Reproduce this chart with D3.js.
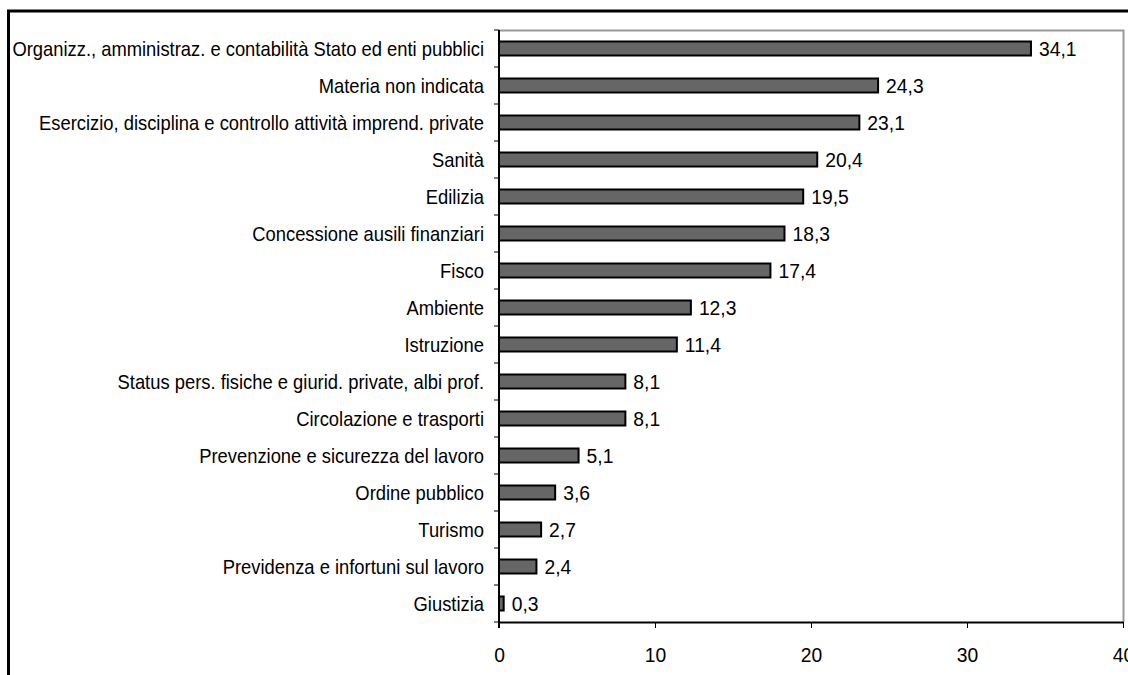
<!DOCTYPE html>
<html>
<head>
<meta charset="utf-8">
<script src="https://cdn.jsdelivr.net/npm/d3@7"></script>
<style>
  html, body { margin: 0; padding: 0; background: #fff; }
  svg { display: block; font-family: Arial, "Liberation Sans", sans-serif; }
</style>
</head>
<body>
<svg id="chart" width="1128" height="675"></svg>
<script>
// Subject areas, top to bottom
const categories = [
  "Organizz., amministraz. e contabilità Stato ed enti pubblici",
  "Materia non indicata",
  "Esercizio, disciplina e controllo attività imprend. private",
  "Sanità",
  "Edilizia",
  "Concessione ausili finanziari ",
  "Fisco ",
  "Ambiente",
  "Istruzione",
  "Status pers. fisiche e giurid. private, albi prof.",
  "Circolazione e trasporti",
  "Prevenzione e sicurezza del lavoro",
  "Ordine pubblico",
  "Turismo",
  "Previdenza e infortuni sul lavoro",
  "Giustizia"
];
const values = [34.1, 24.3, 23.1, 20.4, 19.5, 18.3, 17.4, 12.3, 11.4, 8.1, 8.1, 5.1, 3.6, 2.7, 2.4, 0.3];
const xTicks = [0, 10, 20, 30, 40];

// text is set slightly condensed horizontally
const FONT = 21;
const LABEL_SX = 0.875;
const NUM_SX = 0.92;

const svg = d3.select("#chart");
const plot = { left: 499, right: 1123, top: 30, bottom: 622 };

// outer frame (extends past the right and bottom edges)
svg.append("path")
  .attr("d", "M8.5,1000 V11 H1200")
  .attr("fill", "none")
  .attr("stroke", "#000")
  .attr("stroke-width", 3);

const x = d3.scaleLinear().domain([0, 40]).range([plot.left, plot.right]);
const band = d3.scaleBand().domain(categories).range([plot.top, plot.bottom]);
const cy = i => band(categories[i]) + band.bandwidth() / 2;

// plot-area border (top & right, gray)
svg.append("path")
  .attr("d", `M${plot.left},${plot.top + 0.5} H${plot.right + 0.5} V${plot.bottom}`)
  .attr("fill", "none")
  .attr("stroke", "#999")
  .attr("stroke-width", 2);

// bars
svg.append("g").selectAll("rect")
  .data(values)
  .join("rect")
  .attr("x", x(0))
  .attr("y", (d, i) => cy(i) - 7)
  .attr("width", d => x(d) - x(0))
  .attr("height", 14)
  .attr("fill", "#666666")
  .attr("stroke", "#000")
  .attr("stroke-width", 2);

// value labels
svg.append("g").selectAll("text")
  .data(values)
  .join("text")
  .attr("transform", (d, i) => `translate(${x(d) + 8},${cy(i)}) scale(${NUM_SX},1)`)
  .attr("dy", "0.36em")
  .attr("font-size", FONT)
  .attr("fill", "#000")
  .text(d => d3.format(".1f")(d).replace(".", ","));

// category axis: labels at band centres, ticks at band boundaries
const yAxis = svg.append("g");
yAxis.append("line")
  .attr("x1", plot.left).attr("x2", plot.left)
  .attr("y1", plot.top).attr("y2", plot.bottom + 6)
  .attr("stroke", "#000").attr("stroke-width", 2);
yAxis.selectAll("line.tick")
  .data(d3.range(categories.length + 1))
  .join("line")
  .attr("class", "tick")
  .attr("x1", plot.left - 5).attr("x2", plot.left)
  .attr("y1", i => plot.top + i * band.step())
  .attr("y2", i => plot.top + i * band.step())
  .attr("stroke", "#000").attr("stroke-width", 1);
yAxis.selectAll("text")
  .data(categories)
  .join("text")
  .attr("transform", (d, i) => `translate(${plot.left - 15},${cy(i)}) scale(${LABEL_SX},1)`)
  .attr("dy", "0.36em")
  .attr("text-anchor", "end")
  .attr("font-size", FONT)
  .attr("fill", "#000")
  .text(d => d);

// value axis
const xAxis = svg.append("g").attr("transform", `translate(0,${plot.bottom})`)
  .call(d3.axisBottom(x).tickValues(xTicks).tickSize(6).tickPadding(19).tickSizeOuter(0).tickFormat(d3.format("d")));
xAxis.select(".domain").attr("stroke", "#000").attr("stroke-width", 2);
xAxis.selectAll(".tick line").attr("stroke", "#000").attr("stroke-width", 1);
xAxis.selectAll(".tick text")
  .attr("transform", `scale(${NUM_SX},1)`)
  .attr("font-size", FONT)
  .attr("font-family", "Arial, 'Liberation Sans', sans-serif")
  .attr("fill", "#000");
</script>
</body>
</html>
